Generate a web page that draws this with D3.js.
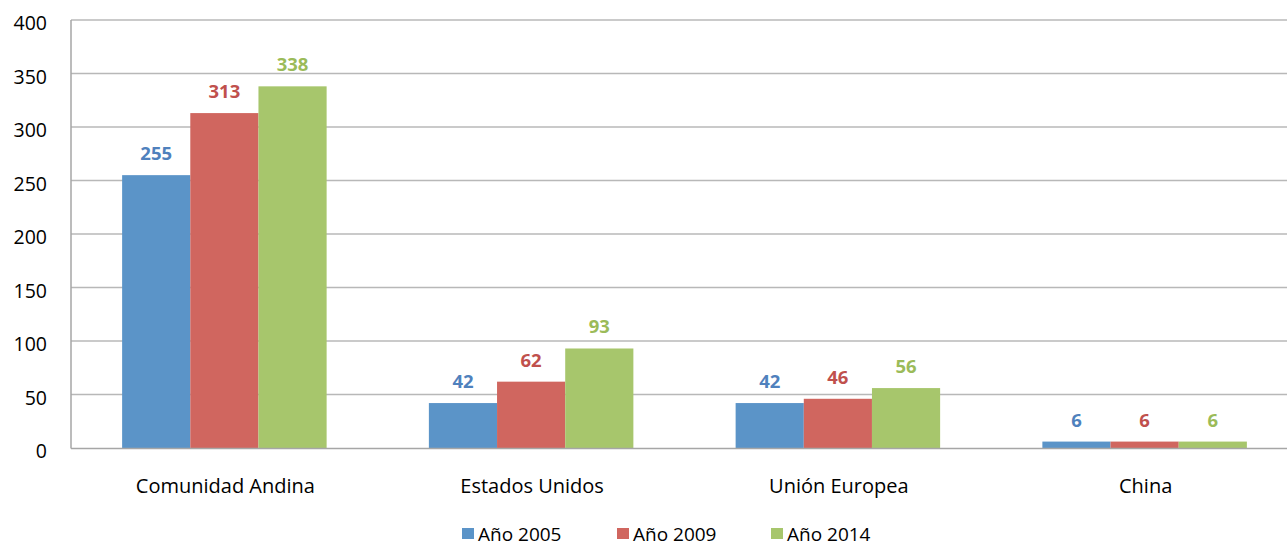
<!DOCTYPE html>
<html><head><meta charset="utf-8">
<script src="https://cdn.jsdelivr.net/npm/d3@7"></script>
<style>body{margin:0;background:#fff}svg{display:block}text{font-family:"Open Sans",sans-serif}</style>
</head><body><svg id="c" width="1287" height="546"></svg>
<script>
const categories = ["Comunidad Andina","Estados Unidos","Unión Europea","China"];
const seriesNames = ["Año 2005","Año 2009","Año 2014"];
const values2005 = [255,42,42,6];
const values2009 = [313,62,46,6];
const values2014 = [338,93,56,6];
const yTicks = [0,50,100,150,200,250,300,350,400];
const barColors = ["#5b94c8","#d0665f","#a7c66c"];
const labelColors = ["#4f81bd","#c0504d","#9bbb59"];

const seriesValues = [values2005, values2009, values2014];
const svg = d3.select("#c");
const y = d3.scaleLinear().domain([0,400]).range([448,20]);
const x0 = d3.scaleBand().domain(categories).range([71,1298]).paddingInner(0).paddingOuter(0);
const x1 = d3.scaleBand().domain(seriesNames).range([0,x0.bandwidth()]).paddingInner(0).paddingOuter(0.75);

// gridlines
svg.append("g").selectAll("line").data(yTicks.filter(d=>d>0)).join("line")
  .attr("x1",71).attr("x2",1298).attr("y1",d=>y(d)).attr("y2",d=>y(d))
  .attr("stroke","#b8b8b8").attr("stroke-width",1.5);

// y tick labels
svg.append("g").selectAll("text").data(yTicks).join("text")
  .attr("x",47).attr("y",d=>y(d)+10).attr("text-anchor","end")
  .attr("font-size",19.5).attr("fill","#000").text(d=>d);

// bars
const g = svg.append("g");
seriesNames.forEach((s,i)=>{
  g.append("g").selectAll("rect").data(categories).join("rect")
    .attr("x",c=>x0(c)+x1(s)).attr("width",x1.bandwidth())
    .attr("y",(c,j)=>y(seriesValues[i][j])).attr("height",(c,j)=>y(0)-y(seriesValues[i][j]))
    .attr("fill",barColors[i]);
  g.append("g").selectAll("text").data(categories).join("text")
    .attr("x",c=>x0(c)+x1(s)+x1.bandwidth()/2).attr("y",(c,j)=>y(seriesValues[i][j])-15)
    .attr("text-anchor","middle").attr("font-size",18.5).attr("font-weight","bold")
    .attr("fill",labelColors[i]).text((c,j)=>seriesValues[i][j]);
});

// axes lines
svg.append("line").attr("x1",71).attr("x2",71).attr("y1",20).attr("y2",448.5).attr("stroke","#a6a6a6").attr("stroke-width",1.5);
svg.append("line").attr("x1",71).attr("x2",1298).attr("y1",448.5).attr("y2",448.5).attr("stroke","#a6a6a6").attr("stroke-width",1.5);

// category labels
svg.append("g").selectAll("text").data(categories).join("text")
  .attr("x",c=>x0(c)+x0.bandwidth()/2+1).attr("y",493).attr("text-anchor","middle")
  .attr("font-size",20).attr("fill","#000").text(c=>c);

// legend
const legX = [462,617,771];
const lg = svg.append("g");
seriesNames.forEach((s,i)=>{
  lg.append("rect").attr("x",legX[i]).attr("y",528).attr("width",12).attr("height",11).attr("fill",barColors[i]);
  lg.append("text").attr("x",legX[i]+16).attr("y",541).attr("font-size",19).attr("fill","#000").text(s);
});
</script></body></html>
